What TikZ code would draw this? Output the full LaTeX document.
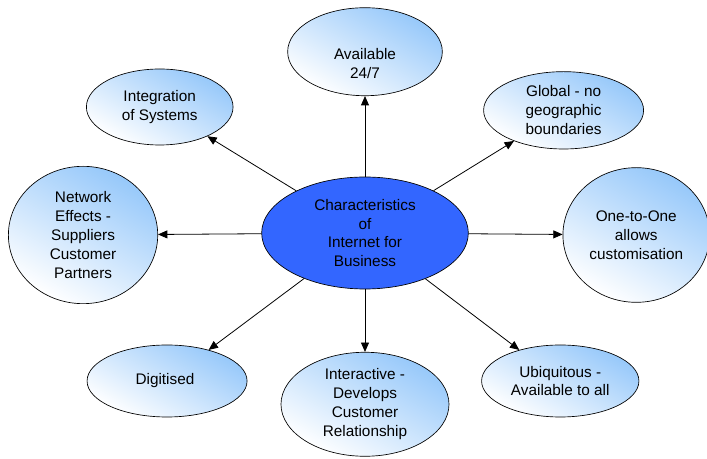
\documentclass[tikz,border=0pt]{standalone}
\usepackage{fontspec}
\setmainfont{Liberation Sans}
\usetikzlibrary{shapes.geometric, arrows.meta}
\definecolor{hubblue}{RGB}{51,102,255}
\definecolor{skyblue}{RGB}{150,200,250}
\tikzstyle{hub} = [ellipse, inner sep=0pt, minimum width=155pt, minimum height=84pt, text centered, align=center, draw=black, line width=0.5pt, fill=hubblue]
\tikzstyle{feature} = [ellipse, inner sep=0pt, text centered, align=center, draw=black, line width=0.5pt, bottom color=white, middle color=skyblue!45, top color=skyblue, shading angle=-30]
\tikzstyle{arrow} = [line width=0.6pt, ->, >={Triangle[length=7pt,width=6pt]}]

\begin{document}
\begin{tikzpicture}[font=\fontsize{11.5}{14.2}\selectfont]
		\useasboundingbox (-273.75pt,-169.5pt) rectangle (256.5pt,174.75pt);
		\node (hub) [hub] at (0,0) {
			Characteristics\\of\\Internet for\\Business
		};
		\node (avail) [feature, above of=hub, yshift=107.5pt, minimum width=116pt, minimum height=66pt] {
			\rule{0pt}{26pt}Available\\24/7
		};
		\node (integ) [feature, left of=hub, xshift=-125.5pt, yshift=94.5pt, minimum width=110pt, minimum height=57pt] {
			Integration\\of Systems
		};
		\node (global) [feature, right of=hub, xshift=120.5pt, yshift=92pt, minimum width=120pt, minimum height=58pt] {
			Global - no\\geographic\\boundaries
		};
		\node (network) [feature, left of=hub, xshift=-183pt, yshift=-1.5pt, minimum width=112pt, minimum height=103pt] {
			Network\\Effects -\\Suppliers\\Customer\\Partners
		};
		\node (onetoone) [feature, right of=hub, xshift=175pt, yshift=-1.5pt, minimum width=110pt, minimum height=101pt] {
			One-to-One\\allows\\customisation
		};
		\node (digit) [feature, left of=hub, xshift=-120pt, yshift=-111pt, minimum width=120pt, minimum height=54pt] {
			Digitised
		};
		\node (inter) [feature, below of=hub, yshift=-100pt, minimum width=126pt, minimum height=78pt] {
			Interactive -\\Develops\\Customer\\Relationship
		};
		\node (ubiq) [feature, right of=hub, xshift=118pt, yshift=-111pt, minimum width=118pt, minimum height=54pt] {
			Ubiquitous -\\Available to all
		};
		\draw [arrow] (hub) -- (avail);
		\draw [arrow] (hub) -- (integ);
		\draw [arrow] (hub) -- (global);
		\draw [arrow] (hub) -- (network);
		\draw [arrow] (hub) -- (onetoone);
		\draw [arrow] (hub) -- (digit);
		\draw [arrow] (hub) -- (inter);
		\draw [arrow] (hub) -- (ubiq);
	\end{tikzpicture}
\end{document}
